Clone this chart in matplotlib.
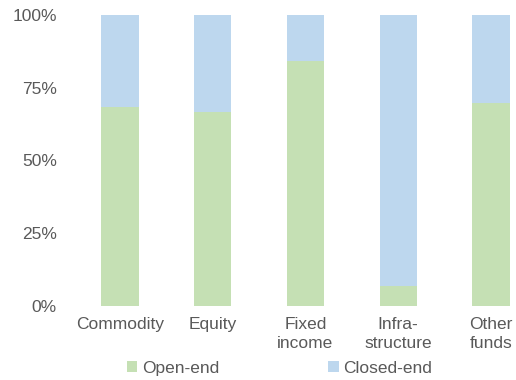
import matplotlib
matplotlib.use('Agg')
import matplotlib.pyplot as plt
from matplotlib.ticker import PercentFormatter
import numpy as np

categories = ['Commodity', 'Equity', 'Fixed\nincome', 'Infra-\nstructure', 'Other\nfunds']
open_end = [68.4, 66.8, 84.2, 6.9, 69.8]
closed_end = [31.6, 33.2, 15.8, 93.1, 30.2]

green = '#C5E0B4'
blue = '#BDD7EE'
grey = '#595959'

plt.rcParams['font.family'] = ['Liberation Sans', 'DejaVu Sans']

fig = plt.figure(figsize=(5.16, 3.80), dpi=100)
ax = fig.add_axes([73.6 / 516, 74 / 380, 1 - 73.6 / 516, 291 / 380])

x = np.arange(len(categories))
ax.bar(x, open_end, width=0.4, color=green, label='Open-end')
ax.bar(x, closed_end, width=0.4, bottom=open_end, color=blue, label='Closed-end')

ax.set_ylim(0, 100)
ax.set_xlim(-0.5, 4.27)
ax.set_yticks([0, 25, 50, 75, 100])
ax.yaxis.set_major_formatter(PercentFormatter(decimals=0))
ax.set_xticks(x)
ax.set_xticklabels(categories, linespacing=1.3)
ax.tick_params(length=0, labelsize=12.5, labelcolor=grey)
ax.tick_params(axis='y', pad=12)
ax.tick_params(axis='x', pad=8)
for s in ax.spines.values():
    s.set_visible(False)

fig.legend(loc='lower left', bbox_to_anchor=(120 / 516, -0.007), ncol=2, frameon=False,
           fontsize=12.5, labelcolor=grey, handlelength=0.6, handleheight=0.6,
           handletextpad=0.25, columnspacing=6.3, borderaxespad=0)

fig.savefig('out.png', dpi=100)
